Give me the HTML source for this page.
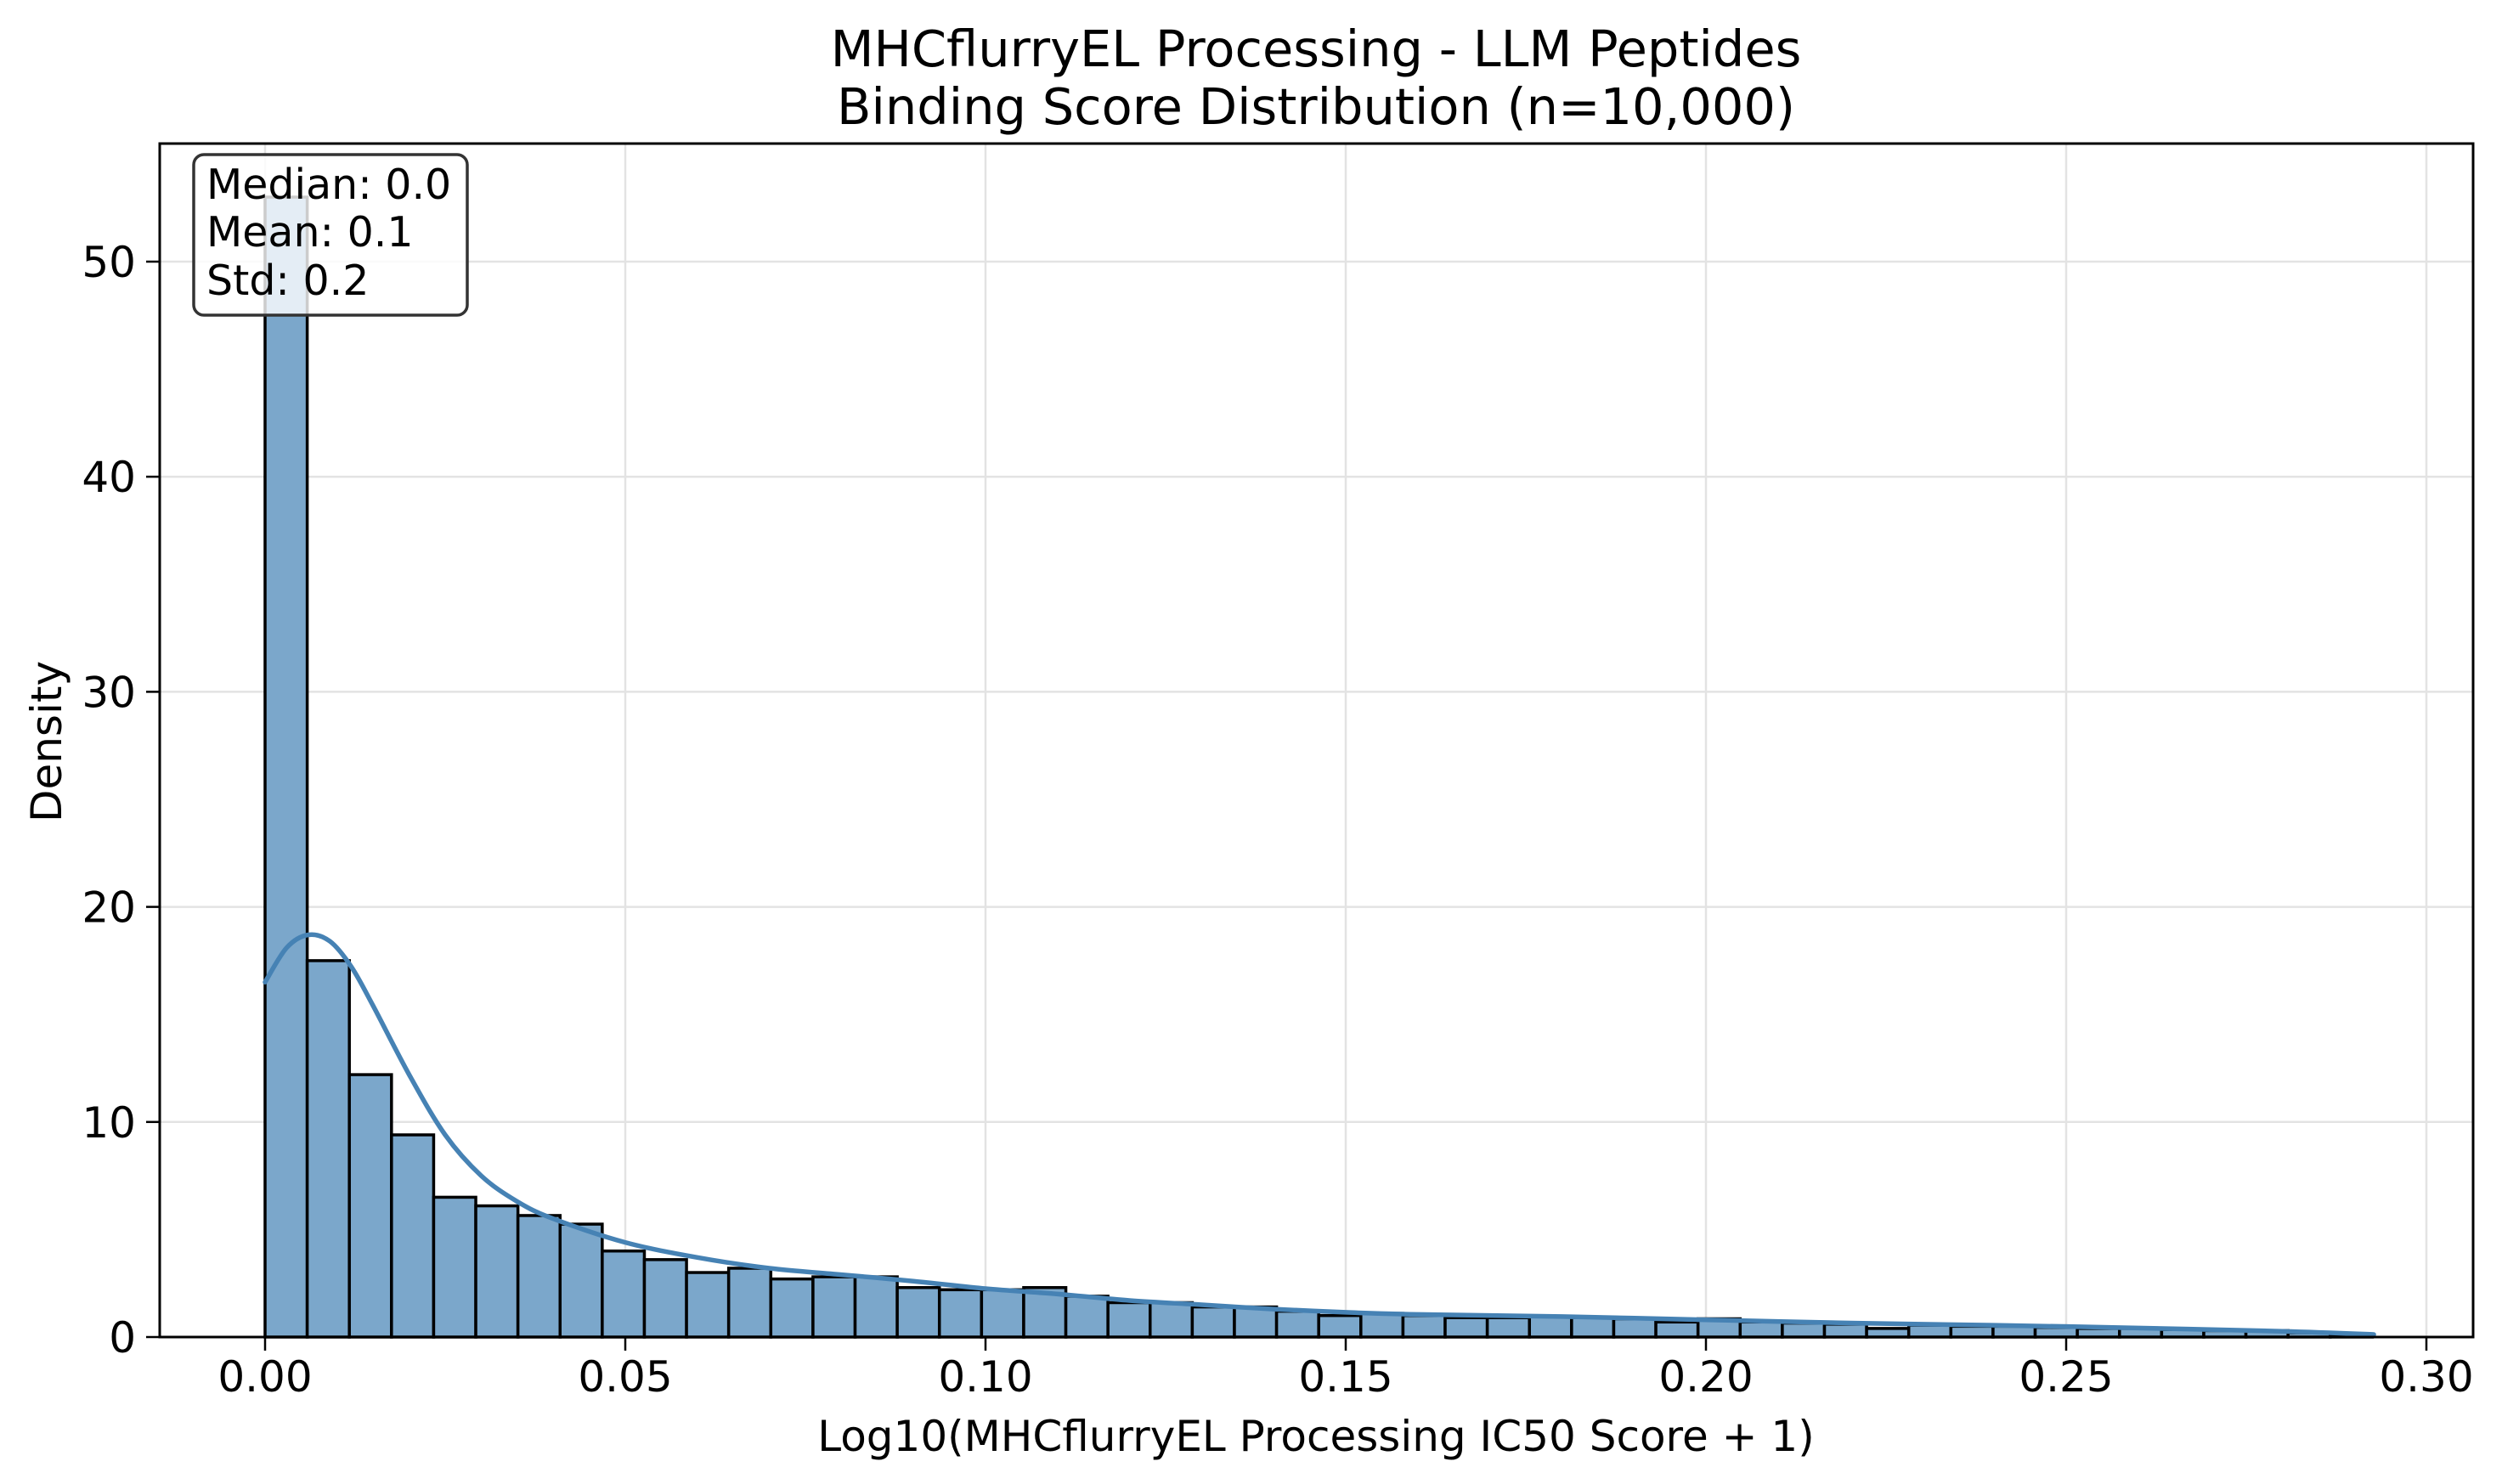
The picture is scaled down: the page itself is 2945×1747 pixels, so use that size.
<!DOCTYPE html>
<html><head><meta charset="utf-8"><style>
html,body{margin:0;padding:0;background:#fff;}
svg{display:block;font-family:"DejaVu Sans","Liberation Sans",sans-serif;}
</style></head><body>
<svg id="chart" width="2945" height="1747" viewBox="0 0 2945 1747" xmlns="http://www.w3.org/2000/svg">
<rect width="2945" height="1747" fill="#fff"/>
<g id="grid"></g>
<g id="bars"></g>
<path id="kde" fill="none" stroke="#4682b4" stroke-width="5.5" stroke-linejoin="round" stroke-linecap="round"/>
<g id="axes"></g>
<text x="1549" y="78" font-size="59" text-anchor="middle">MHCflurryEL Processing - LLM Peptides</text>
<text x="1549" y="146" font-size="59" text-anchor="middle">Binding Score Distribution (n=10,000)</text>
<text x="1549" y="1708" font-size="50" text-anchor="middle">Log10(MHCflurryEL Processing IC50 Score + 1)</text>
<text x="0" y="0" font-size="50" text-anchor="middle" transform="translate(72,873) rotate(-90)">Density</text>
<g>
<rect x="228" y="182" width="322" height="189" rx="12" fill="#fff" fill-opacity="0.8" stroke="#333" stroke-width="3.5"/>
<text x="243" y="234" font-size="49">Median: 0.0</text>
<text x="243" y="290" font-size="49">Mean: 0.1</text>
<text x="243" y="347" font-size="49">Std: 0.2</text>
</g>
</svg>
<script>
const binWidth = 0.00585;
const binHeights = [53.0,17.5,12.2,9.4,6.5,6.1,5.65,5.25,4.0,3.6,3.0,3.2,2.7,2.8,2.8,2.3,2.2,2.2,2.3,1.9,1.6,1.6,1.4,1.4,1.2,1.0,1.1,1.0,0.9,0.9,0.95,0.9,0.85,0.7,0.85,0.7,0.65,0.6,0.4,0.55,0.5,0.5,0.45,0.4,0.4,0.35,0.3,0.3,0.2,0.1];
const kdeX = [0,0.003,0.006,0.009,0.012,0.015,0.02,0.025,0.03,0.035,0.04,0.05,0.06,0.07,0.08,0.09,0.1,0.11,0.12,0.13,0.14,0.15,0.16,0.18,0.2,0.22,0.24,0.26,0.28,0.2927];
const kdeY = [16.5,18.1,18.7,18.4,17.2,15.4,12.2,9.4,7.5,6.3,5.5,4.4,3.7,3.2,2.9,2.6,2.25,2.0,1.7,1.5,1.3,1.15,1.05,0.95,0.8,0.65,0.55,0.42,0.27,0.12];
const xTicks = [0,0.05,0.10,0.15,0.20,0.25,0.30];
const xTickLabels = ["0.00","0.05","0.10","0.15","0.20","0.25","0.30"];
const yTicks = [0,10,20,30,40,50];
const yTickLabels = ["0","10","20","30","40","50"];

const L=188,R=2911,T=169,B=1574;
const xs = v => 312 + v*(424/0.05);
const ys = v => 1574 - v*(1266/50);
const NS="http://www.w3.org/2000/svg";
function mk(tag, attrs, parent){const e=document.createElementNS(NS,tag);for(const k in attrs)e.setAttribute(k,attrs[k]);parent.appendChild(e);return e;}
const grid=document.getElementById('grid'), bars=document.getElementById('bars'), axes=document.getElementById('axes');

xTicks.forEach((t,i)=>{
  const g=mk('line',{x1:xs(t),x2:xs(t),y1:T,y2:B,stroke:'#e3e3e3','stroke-width':2.5},grid);
  
  
  const tk=mk('line',{x1:xs(t),x2:xs(t),y1:B,y2:B+16,stroke:'#000','stroke-width':2.5},axes);
  
  
  const lb=mk('text',{x:xs(t),y:B+64,'font-size':50,'text-anchor':'middle'},axes);
  lb.textContent=xTickLabels[i];
  
  
});
yTicks.forEach((t,i)=>{
  const g=mk('line',{x1:L,x2:R,y1:ys(t),y2:ys(t),stroke:'#e3e3e3','stroke-width':2.5},grid);
  
  
  const tk=mk('line',{x1:L-16,x2:L,y1:ys(t),y2:ys(t),stroke:'#000','stroke-width':2.5},axes);
  
  
  const lb=mk('text',{x:L-28,y:ys(t)+18,'font-size':50,'text-anchor':'end'},axes);
  lb.textContent=yTickLabels[i];
  
  
});
binHeights.forEach((h,i)=>{
  const x0=xs(i*binWidth), x1=xs((i+1)*binWidth);
  const r=mk('rect',{x:x0,y:ys(h),width:x1-x0,height:ys(0)-ys(h),fill:'#7ba7cb',stroke:'#000','stroke-width':3.5},bars);
  
  
});
// Catmull-Rom smoothing through KDE points
const P=kdeX.map((x,i)=>[xs(x),ys(kdeY[i])]);
let d='M'+P[0][0].toFixed(1)+','+P[0][1].toFixed(1);
for(let i=0;i<P.length-1;i++){
  const p0=P[Math.max(i-1,0)],p1=P[i],p2=P[i+1],p3=P[Math.min(i+2,P.length-1)];
  const c1=[p1[0]+(p2[0]-p0[0])/6,p1[1]+(p2[1]-p0[1])/6];
  const c2=[p2[0]-(p3[0]-p1[0])/6,p2[1]-(p3[1]-p1[1])/6];
  d+='C'+c1[0].toFixed(1)+','+c1[1].toFixed(1)+' '+c2[0].toFixed(1)+','+c2[1].toFixed(1)+' '+p2[0].toFixed(1)+','+p2[1].toFixed(1);
}
document.getElementById('kde').setAttribute('d',d);
const sp=mk('rect',{x:L,y:T,width:R-L,height:B-T,fill:'none',stroke:'#000','stroke-width':3},axes);


</script>
</body></html>
